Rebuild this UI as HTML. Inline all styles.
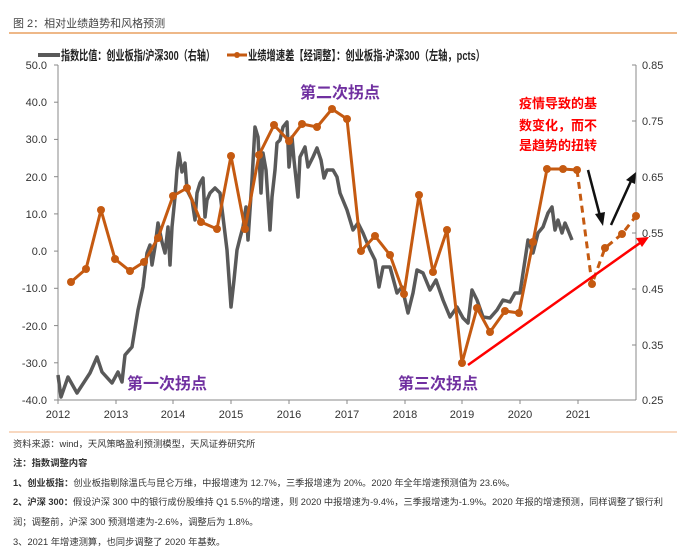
<!DOCTYPE html>
<html><head><meta charset="utf-8"><style>
body{margin:0;background:#fff;width:685px;height:554px;overflow:hidden;font-family:"Liberation Sans","Noto Sans CJK SC",sans-serif}
svg{position:absolute;left:0;top:0}
</style></head><body>
<svg width="685" height="554" viewBox="0 0 685 554" xmlns="http://www.w3.org/2000/svg" font-family="Liberation Sans, Noto Sans CJK SC, sans-serif">
<text x="13" y="27" font-size="11" fill="#444">图 2：相对业绩趋势和风格预测</text>
<line x1="9" y1="33" x2="677" y2="33" stroke="#e8a060" stroke-width="1.5"/>
<!-- legend -->
<line x1="38" y1="55" x2="60" y2="55" stroke="#595959" stroke-width="4"/>
<text x="61" y="60" font-size="13" font-weight="bold" fill="#222" textLength="154" lengthAdjust="spacingAndGlyphs">指数比值：创业板指/沪深300（右轴）</text>
<line x1="227" y1="55" x2="247" y2="55" stroke="#c55a11" stroke-width="3"/>
<circle cx="237" cy="55" r="3" fill="#c55a11"/>
<text x="248" y="60" font-size="13" font-weight="bold" fill="#222" textLength="237" lengthAdjust="spacingAndGlyphs">业绩增速差【经调整】：创业板指-沪深300（左轴，pcts）</text>
<!-- axes -->
<g stroke="#888" stroke-width="1">
<line x1="58" y1="65" x2="58" y2="400"/>
<line x1="58" y1="400" x2="636" y2="400"/>
<line x1="636" y1="65" x2="636" y2="400"/>
</g>
<g stroke="#888"><line x1="54" y1="65" x2="58" y2="65"/><line x1="54" y1="102.2" x2="58" y2="102.2"/><line x1="54" y1="139.4" x2="58" y2="139.4"/><line x1="54" y1="176.7" x2="58" y2="176.7"/><line x1="54" y1="213.9" x2="58" y2="213.9"/><line x1="54" y1="251.1" x2="58" y2="251.1"/><line x1="54" y1="288.3" x2="58" y2="288.3"/><line x1="54" y1="325.6" x2="58" y2="325.6"/><line x1="54" y1="362.8" x2="58" y2="362.8"/><line x1="54" y1="400" x2="58" y2="400"/>
<line x1="632" y1="65" x2="636" y2="65"/><line x1="632" y1="121" x2="636" y2="121"/><line x1="632" y1="177" x2="636" y2="177"/><line x1="632" y1="233" x2="636" y2="233"/><line x1="632" y1="289" x2="636" y2="289"/><line x1="632" y1="345" x2="636" y2="345"/>
<line x1="58" y1="400" x2="58" y2="404"/><line x1="116" y1="400" x2="116" y2="404"/><line x1="173" y1="400" x2="173" y2="404"/><line x1="231" y1="400" x2="231" y2="404"/><line x1="289" y1="400" x2="289" y2="404"/><line x1="347" y1="400" x2="347" y2="404"/><line x1="405" y1="400" x2="405" y2="404"/><line x1="462" y1="400" x2="462" y2="404"/><line x1="520" y1="400" x2="520" y2="404"/><line x1="578" y1="400" x2="578" y2="404"/>
</g>
<g font-size="11" fill="#333" text-anchor="end">
<text x="47" y="69">50.0</text><text x="47" y="106">40.0</text><text x="47" y="143">30.0</text><text x="47" y="181">20.0</text><text x="47" y="218">10.0</text><text x="47" y="255">0.0</text><text x="47" y="292">-10.0</text><text x="47" y="330">-20.0</text><text x="47" y="367">-30.0</text><text x="47" y="404">-40.0</text>
</g>
<g font-size="11" fill="#333">
<text x="642" y="69">0.85</text><text x="642" y="125">0.75</text><text x="642" y="181">0.65</text><text x="642" y="237">0.55</text><text x="642" y="293">0.45</text><text x="642" y="349">0.35</text><text x="642" y="404">0.25</text>
</g>
<g font-size="11" fill="#333" text-anchor="middle">
<text x="58" y="418">2012</text><text x="116" y="418">2013</text><text x="173" y="418">2014</text><text x="231" y="418">2015</text><text x="289" y="418">2016</text><text x="347" y="418">2017</text><text x="405" y="418">2018</text><text x="462" y="418">2019</text><text x="520" y="418">2020</text><text x="578" y="418">2021</text>
</g>
<!-- gray line -->
<polyline fill="none" stroke="#595959" stroke-width="3.5" stroke-linejoin="round" points="58,375 61,397 68,377 77,393 90,373 97,357 102,372 112,383 118,372 122,382 125,355 132,347 138,310 143,287 147,253 150,245 152,265 155,247 158,223 162,242 165,253 168,227 170,265 172,227 175,197 177,170 179,153 182,172 185,163 187,190 192,200 195,220 197,193 200,183 203,178 205,217 207,200 210,193 215,188 220,193 223,217 227,250 231,307 234,280 237,250 240,238 243,227 246,207 248,240 252,180 255,127 258,137 261,193 263,153 266,170 270,230 272,197 275,170 277,143 280,140 283,127 287,122 289,167 292,137 294,160 298,197 300,157 305,147 308,167 313,157 317,148 321,160 324,178 327,170 333,170 337,177 340,193 347,210 353,230 358,223 363,233 370,250 375,260 379,287 383,267 390,267 397,293 402,287 408,313 413,293 417,270 423,273 430,290 436,280 443,300 450,317 457,307 463,318 468,323 472,290 477,300 483,317 490,318 497,310 503,300 510,302 515,293 520,293 525,260 528,240 533,253 538,233 543,227 548,213 552,207 555,230 558,220 562,233 565,223 568,230 572,240"/>
<!-- orange line -->
<polyline fill="none" stroke="#c55a11" stroke-width="3" stroke-linejoin="round" points="71,282 86,269 101,210 115,259 130,271 144,262 158,238 173,196 187,188 201,222 217,229 231,156 245,229 259,155 274,125 289,141 302,124 317,127 332,109 347,119 361,251 375,236 390,255 404,294 419,195 433,272 447,230 462,363 477,308 490,332 505,311 519,313 533,242 547,169 563,169 577,170"/>
<polyline fill="none" stroke="#c55a11" stroke-width="3" stroke-dasharray="7,5" points="577,170 592,284 605,248 622,234 636,216"/>
<g fill="#c55a11">
<circle cx="71" cy="282" r="4"/><circle cx="86" cy="269" r="4"/><circle cx="101" cy="210" r="4"/><circle cx="115" cy="259" r="4"/><circle cx="130" cy="271" r="4"/><circle cx="144" cy="262" r="4"/><circle cx="158" cy="238" r="4"/><circle cx="173" cy="196" r="4"/><circle cx="187" cy="188" r="4"/><circle cx="201" cy="222" r="4"/><circle cx="217" cy="229" r="4"/><circle cx="231" cy="156" r="4"/><circle cx="245" cy="229" r="4"/><circle cx="259" cy="155" r="4"/><circle cx="274" cy="125" r="4"/><circle cx="289" cy="141" r="4"/><circle cx="302" cy="124" r="4"/><circle cx="317" cy="127" r="4"/><circle cx="332" cy="109" r="4"/><circle cx="347" cy="119" r="4"/><circle cx="361" cy="251" r="4"/><circle cx="375" cy="236" r="4"/><circle cx="390" cy="255" r="4"/><circle cx="404" cy="294" r="4"/><circle cx="419" cy="195" r="4"/><circle cx="433" cy="272" r="4"/><circle cx="447" cy="230" r="4"/><circle cx="462" cy="363" r="4"/><circle cx="477" cy="308" r="4"/><circle cx="490" cy="332" r="4"/><circle cx="505" cy="311" r="4"/><circle cx="519" cy="313" r="4"/><circle cx="533" cy="242" r="4"/><circle cx="547" cy="169" r="4"/><circle cx="563" cy="169" r="4"/><circle cx="577" cy="170" r="4"/><circle cx="592" cy="284" r="4"/><circle cx="605" cy="248" r="4"/><circle cx="622" cy="234" r="4"/><circle cx="636" cy="216" r="4"/>
</g>
<!-- arrows -->
<line x1="468" y1="365" x2="640" y2="243" stroke="#ff0000" stroke-width="2.5"/>
<polygon points="649,237 636,238 642,247" fill="#ff0000"/>
<line x1="588" y1="170" x2="600" y2="216" stroke="#111" stroke-width="2.5"/>
<polygon points="603,226 595,214 605,212" fill="#111"/>
<line x1="611" y1="225" x2="631" y2="181" stroke="#111" stroke-width="2.5"/>
<polygon points="636,172 626,180 635,184" fill="#111"/>
<!-- annotations -->
<g font-size="16" font-weight="bold" fill="#7030a0">
<text x="127" y="389">第一次拐点</text>
<text x="300" y="98">第二次拐点</text>
<text x="398" y="389">第三次拐点</text>
</g>
<g font-size="13" font-weight="bold" fill="#ff0000">
<text x="519" y="108">疫情导致的基</text>
<text x="519" y="130">数变化，而不</text>
<text x="519" y="150">是趋势的扭转</text>
</g>
<line x1="9" y1="432" x2="677" y2="432" stroke="#f0b080" stroke-width="1"/>
<g font-size="9.3" fill="#333">
<text x="13" y="447">资料来源：wind，天风策略盈利预测模型，天风证券研究所</text>
<text x="13" y="466" font-weight="bold">注：指数调整内容</text>
<text x="13" y="486" textLength="502" lengthAdjust="spacingAndGlyphs"><tspan font-weight="bold">1、创业板指：</tspan>创业板指剔除温氏与昆仑万维，中报增速为 12.7%，三季报增速为 20%。2020 年全年增速预测值为 23.6%。</text>
<text x="13" y="505" textLength="650" lengthAdjust="spacingAndGlyphs"><tspan font-weight="bold">2、沪深 300：</tspan>假设沪深 300 中的银行成份股维持 Q1 5.5%的增速，则 2020 中报增速为-9.4%，三季报增速为-1.9%。2020 年报的增速预测，同样调整了银行利</text>
<text x="13" y="525">润；调整前，沪深 300 预测增速为-2.6%，调整后为 1.8%。</text>
<text x="13" y="545">3、2021 年增速测算，也同步调整了 2020 年基数。</text>
</g>
</svg>
</body></html>
